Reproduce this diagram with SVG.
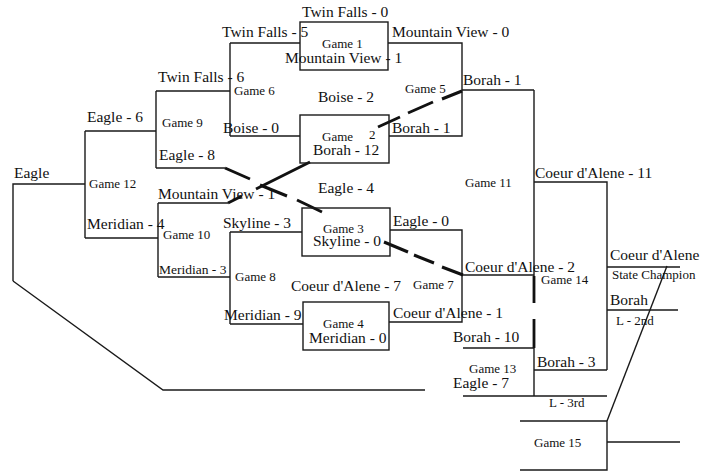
<svg xmlns="http://www.w3.org/2000/svg" width="717" height="471" viewBox="0 0 717 471">
<style>
text{font-family:"Liberation Serif","Times New Roman",serif;fill:#111}
.t{font-size:15.5px}
.s{font-size:13px}
.m{font-size:13.5px}
.ln{fill:none;stroke:#1a1a1a;stroke-width:1.4}
.bx{fill:none;stroke:#1a1a1a;stroke-width:1.4}
.d{fill:none;stroke:#111;stroke-width:3;stroke-linecap:butt}
.k{fill:none;stroke:#111;stroke-width:2.8}
</style>
<rect width="717" height="471" fill="#fff"/>
<g id="connectors">
<path class="ln" d="M13,281 V184 H85"/>
<path class="ln" d="M13,281 L163,390 H425"/>
<path class="ln" d="M85,131 V238 M85,131 H156 M85,238 H158"/>
<path class="ln" d="M156,91 V168 M156,91 H230 M156,168 H225"/>
<path class="ln" d="M230,43 V136 M230,43 H300 M230,136 H300"/>
<path class="ln" d="M388,43 H462 V136 H389 M462,90 H534"/>
<path class="ln" d="M158,203 V277 M158,203 H228 M158,277 H230"/>
<path class="ln" d="M230,232 V324 M230,232 H302 M230,324 H303"/>
<path class="ln" d="M390,230 H462 V322 H389 M462,275 H534"/>
<path class="ln" d="M534,90 V303 M534,182 H607 V370 M534,319 V396"/>
<path class="ln" d="M463,348 H534 M463,396 H607 M534,370 H607"/>
<path class="ln" d="M607,267 H680 M607,310 H678"/>
<path class="ln" d="M520,421 H607 V470 H520 M607,442 H680"/>
<path class="ln" d="M607,421 L667,266"/>
<path class="k" d="M534,276 V303 M534,319 V348"/>
<path class="d" d="M225,168 L250,179 M260,185 L287,196 M297,200 L322,212"/>
<path class="d" d="M228,203 L242,196 M256,189 L310,162 M378,127 L400,117 M408,113 L433,102 M442,99 L462,91"/>
<path class="d" d="M384,242 L408,252 M414,255 L434,263 M442,267 L463,275"/>
</g>
<g id="game1"><rect class="bx" x="300" y="22" width="88" height="48"/><text class="t" x="302" y="17">Twin Falls - 0</text><text class="s" x="322" y="48">Game 1</text><text class="t" x="285" y="63">Mountain View - 1</text></g>
<g id="game2"><rect class="bx" x="300" y="115" width="89" height="48"/><text class="t" x="318" y="102">Boise - 2</text><text class="s" x="322" y="141">Game</text><text class="s" x="369" y="139">2</text><text class="t" x="313" y="155">Borah - 12</text></g>
<g id="game3"><rect class="bx" x="302" y="208" width="88" height="48"/><text class="t" x="318" y="193">Eagle - 4</text><text class="s" x="323" y="233">Game 3</text><text class="t" x="313" y="246">Skyline - 0</text></g>
<g id="game4"><rect class="bx" x="303" y="302" width="86" height="48"/><text class="t" x="291" y="291">Coeur d'Alene - 7</text><text class="s" x="323" y="328">Game 4</text><text class="t" x="309" y="343">Meridian - 0</text></g>
<g id="game5"><text class="t" x="392" y="37">Mountain View - 0</text><text class="s" x="405" y="93">Game 5</text><text class="t" x="392" y="133">Borah - 1</text></g>
<g id="game6"><text class="t" x="222" y="37">Twin Falls - 5</text><text class="s" x="234" y="95">Game 6</text><text class="t" x="223" y="133">Boise - 0</text></g>
<g id="game7"><text class="t" x="393" y="226">Eagle - 0</text><text class="s" x="413" y="289">Game 7</text><text class="t" x="393" y="318">Coeur d'Alene - 1</text></g>
<g id="game8"><text class="t" x="223" y="228">Skyline - 3</text><text class="s" x="235" y="281">Game 8</text><text class="t" x="224" y="320">Meridian - 9</text></g>
<g id="game9"><text class="t" x="158" y="82">Twin Falls - 6</text><text class="s" x="162" y="127">Game 9</text><text class="t" x="159" y="160">Eagle - 8</text></g>
<g id="game10"><text class="t" x="158" y="199">Mountain View - 1</text><text class="s" x="163" y="239">Game 10</text><text class="m" x="159" y="274">Meridian - 3</text></g>
<g id="game11"><text class="t" x="463" y="85">Borah - 1</text><text class="s" x="465" y="187">Game 11</text><text class="t" x="465" y="272">Coeur d'Alene - 2</text></g>
<g id="game12"><text class="t" x="87" y="122">Eagle - 6</text><text class="s" x="89" y="188">Game 12</text><text class="t" x="87" y="229">Meridian - 4</text><text class="t" x="14" y="178">Eagle</text></g>
<g id="game13"><text class="t" x="453" y="342">Borah - 10</text><text class="s" x="469" y="373">Game 13</text><text class="t" x="453" y="388">Eagle - 7</text></g>
<g id="game14"><text class="t" x="535" y="178">Coeur d'Alene - 11</text><text class="s" x="541" y="284">Game 14</text><text class="t" x="537" y="367">Borah - 3</text><text class="s" x="549" y="407">L - 3rd</text></g>
<g id="final"><text class="t" x="610" y="260">Coeur d'Alene</text><text class="s" x="612" y="279">State Champion</text><text class="t" x="610" y="305">Borah</text><text class="s" x="616" y="325">L - 2nd</text></g>
<g id="game15"><text class="s" x="534" y="447">Game 15</text></g>
</svg>
